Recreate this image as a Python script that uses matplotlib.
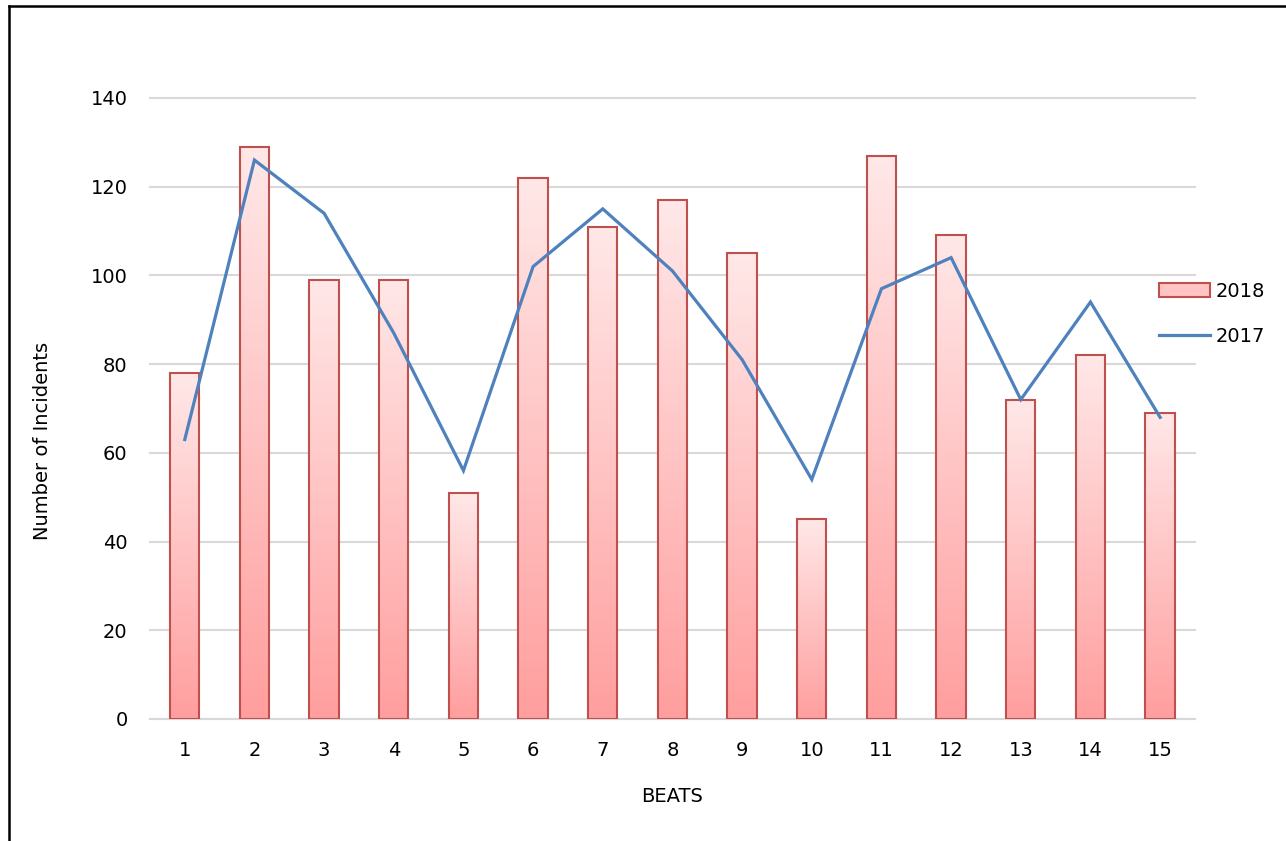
import numpy as np
import matplotlib.pyplot as plt
from matplotlib.colors import LinearSegmentedColormap
from matplotlib.patches import Patch
from matplotlib.lines import Line2D

# ===== データ =====
BEATS = [str(i) for i in range(1, 16)]
INC_2018 = [78, 129, 99, 99, 51, 122, 111, 117, 105, 45, 127, 109, 72, 82, 69]
INC_2017 = [63, 126, 114, 87, 56, 102, 115, 101, 81, 54, 97, 104, 72, 94, 68]
Y_TICKS = [0, 20, 40, 60, 80, 100, 120, 140]

BAR_EDGE = "#C0504D"
LINE_COLOR = "#4F81BD"
GRID_COLOR = "#D9D9D9"

plt.rcParams['font.family'] = ['DejaVu Sans']

fig = plt.figure(figsize=(12.86, 8.41), dpi=100)
ax = fig.add_axes([0.1166, 0.1451, 0.8126, 0.7384])

x = np.arange(len(BEATS))
width = 0.42

# グラデーションの棒
cmap = LinearSegmentedColormap.from_list("pinkgrad", ["#FF9E9E", "#FFE8E8"])
grad = np.linspace(0, 1, 256).reshape(-1, 1)
bars = ax.bar(x, INC_2018, width=width, facecolor="none",
              edgecolor=BAR_EDGE, linewidth=1.5, zorder=3)
for b in bars:
    x0, y0 = b.get_x(), b.get_y()
    ax.imshow(grad, cmap=cmap, origin="lower", aspect="auto",
              extent=(x0, x0 + b.get_width(), y0, y0 + b.get_height()),
              zorder=2.5, interpolation="bilinear")

# 2017 の折れ線
ax.plot(x, INC_2017, color=LINE_COLOR, linewidth=2.3, zorder=4,
        solid_joinstyle="miter")

ax.set_xlim(-0.5, len(BEATS) - 0.5)
ax.set_ylim(0, 140)
ax.set_xticks(x)
ax.set_xticklabels(BEATS)
ax.set_yticks(Y_TICKS)
ax.yaxis.grid(True, color=GRID_COLOR, linewidth=1.5, zorder=0)
for gl in ax.get_ygridlines():
    gl.set_clip_on(False)
ax.set_axisbelow(True)
for s in ["top", "right", "left"]:
    ax.spines[s].set_visible(False)
ax.spines["bottom"].set_color(GRID_COLOR)
ax.spines["bottom"].set_linewidth(1.5)
ax.tick_params(axis="both", length=0, labelsize=14, pad=16)

ax.set_xlabel("BEATS", fontsize=14, labelpad=19)
ax.set_ylabel("Number of Incidents", fontsize=14)
ax.yaxis.set_label_coords(-0.094, 0.448)

handles = [Patch(facecolor="#FFC4C4", edgecolor=BAR_EDGE, linewidth=1.5),
           Line2D([0], [0], color=LINE_COLOR, linewidth=2.3)]
fig.legend(handles, ["2018", "2017"], loc="center left",
           bbox_to_anchor=(0.888, 0.627), frameon=False, fontsize=14,
           handlelength=2.6, handletextpad=0.3, labelspacing=1.35)

# 枠線
fig.add_artist(Line2D([0.007, 0.007], [0.0, 0.993], color="black",
                      linewidth=1.8, transform=fig.transFigure))
fig.add_artist(Line2D([0.007, 1.0], [0.993, 0.993], color="black",
                      linewidth=1.8, transform=fig.transFigure))

fig.savefig("out.png", dpi=100)
